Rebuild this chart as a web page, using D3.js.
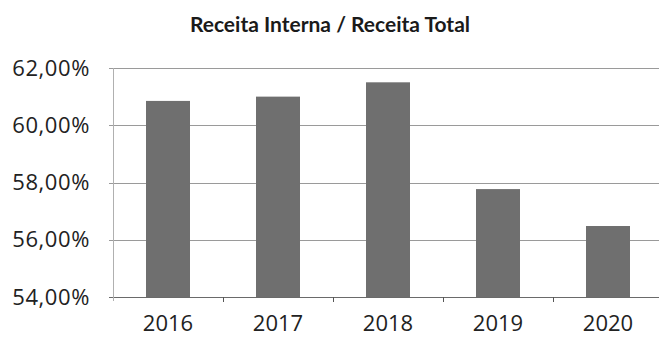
<!DOCTYPE html>
<html><head><meta charset="utf-8">
<script src="https://cdn.jsdelivr.net/npm/d3@7"></script>
<style>body{margin:0;background:#fff}svg{display:block}</style>
</head><body>
<script>
const categories = ["2016","2017","2018","2019","2020"];
const values = [60.85, 61.0, 61.5, 57.77, 56.48];
const yTicks = [54, 56, 58, 60, 62];
const title = "Receita Interna / Receita Total";

const W = 659, H = 338;
const m = {left:113, right:-4, top:68, bottom:41};
const svg = d3.select("body").append("svg").attr("width",W).attr("height",H);
const x = d3.scaleBand().domain(categories).range([m.left, W - m.right]).paddingInner(0.6).paddingOuter(0.3);
const xb = d3.scaleBand().domain(categories).range([m.left, W - m.right]);
const y = d3.scaleLinear().domain([54,62]).range([H - m.bottom, m.top]);

svg.append("text").attr("x",330).attr("y",32).attr("text-anchor","middle")
  .attr("font-family","Lato, 'Open Sans', sans-serif").attr("font-weight","bold").attr("font-size",21)
  .attr("fill","#1a1a1a").text(title);

// gridlines
svg.append("g").selectAll("line").data(yTicks).join("line")
  .attr("x1",m.left-4).attr("x2",W).attr("y1",d=>Math.round(y(d))+0.5).attr("y2",d=>Math.round(y(d))+0.5)
  .attr("stroke",d=>d===54?"#6a6a6a":"#9a9a9a").attr("stroke-width",1);
// y axis line
svg.append("line").attr("x1",m.left+0.5).attr("x2",m.left+0.5).attr("y1",y(62)).attr("y2",y(54)+4)
  .attr("stroke","#b0b0b0");

const yAxis = d3.axisLeft(y).tickValues(yTicks).tickSize(0).tickPadding(23)
  .tickFormat(d=>d3.format(".2f")(d).replace(".",",")+"%");
const gy = svg.append("g").attr("transform",`translate(${m.left},0)`).call(yAxis);
gy.select(".domain").remove();
gy.selectAll("text").attr("font-family","'Open Sans', sans-serif").attr("font-size",22).attr("letter-spacing",0.6).attr("fill","#222");

// x ticks
svg.append("g").selectAll("line").data(categories.slice(1)).join("line")
  .attr("x1",d=>Math.round(xb(d))+0.5).attr("x2",d=>Math.round(xb(d))+0.5)
  .attr("y1",y(54)).attr("y2",y(54)+5).attr("stroke","#555");

const xAxis = d3.axisBottom(xb).tickSize(0).tickPadding(18);
const gx = svg.append("g").attr("transform",`translate(0,${y(54)})`).call(xAxis);
gx.select(".domain").remove();
gx.selectAll("text").attr("font-family","'Open Sans', sans-serif").attr("font-size",22).attr("fill","#222");

// bars
svg.append("g").selectAll("rect").data(values).join("rect")
  .attr("x",(d,i)=>x(categories[i])).attr("width",x.bandwidth())
  .attr("y",d=>y(d)).attr("height",d=>y(54)-y(d))
  .attr("fill","#6f6f6f");
</script>
</body></html>
